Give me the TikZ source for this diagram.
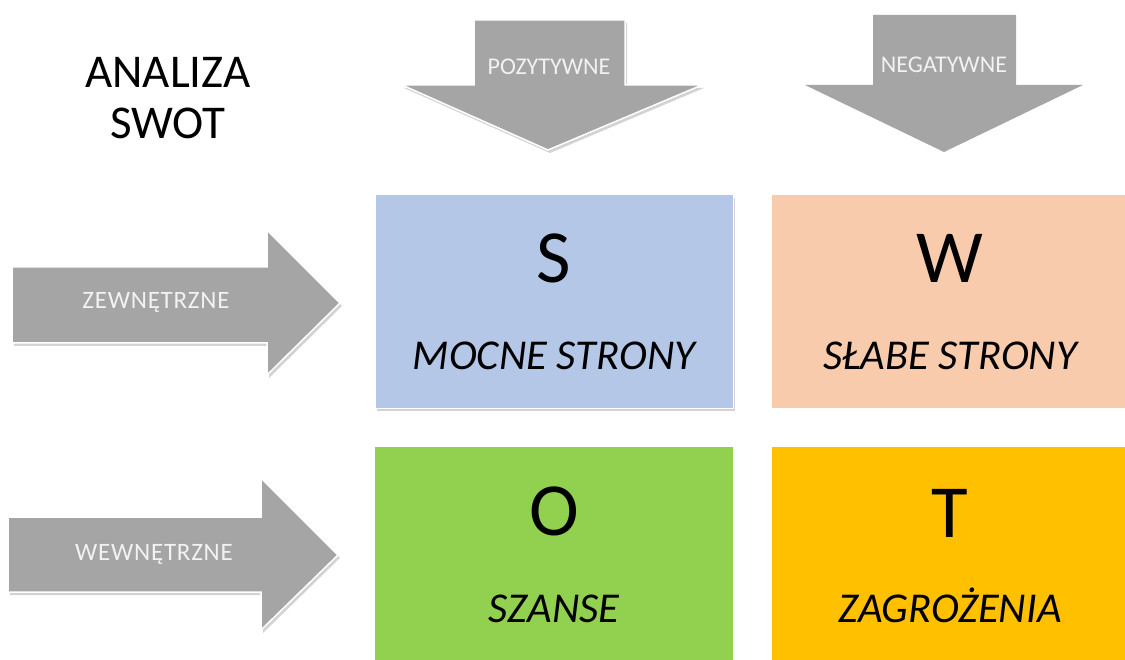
\documentclass[tikz,border=0pt]{standalone}
\usepackage{fontspec}
\setmainfont{Carlito}
\newfontfamily\widefont[LetterSpace=3]{Carlito}
\usetikzlibrary{shadows}
\definecolor{arrowgray}{HTML}{A5A5A5}
\definecolor{labelwhite}{HTML}{F2F2F2}
\definecolor{sblue}{HTML}{B4C7E7}
\definecolor{wpeach}{HTML}{F8CBAD}
\definecolor{ogreen}{HTML}{92D050}
\definecolor{tyellow}{HTML}{FFC000}
\tikzset{
  bigarrow/.style={fill=arrowgray, draw=white, line width=1.5pt, line join=miter},
  shadowed/.style={drop shadow={opacity=0.35, shadow xshift=2pt, shadow yshift=-3pt}},
  arrowlabel/.style={text=labelwhite, font=\fontsize{24}{28}\selectfont, anchor=base, inner sep=0pt},
  sidelabel/.style={text=labelwhite, font=\widefont\fontsize{25}{29}\selectfont, anchor=base, inner sep=0pt},
  quad/.style={draw=white, line width=1pt, inner sep=0pt, anchor=north west},
  bigletter/.style={font=\fontsize{75}{90}\selectfont, anchor=base, inner sep=0pt},
  quadname/.style={font=\fontsize{42.5}{50}\selectfont\itshape, anchor=base, inner sep=0pt},
  titletext/.style={font=\fontsize{47}{52}\selectfont, anchor=base, inner sep=0pt}
}
\begin{document}
\begin{tikzpicture}[x=1pt, y=-1pt]
\useasboundingbox (0,0) rectangle (1125,660);
% title
\node[titletext] (t1) at (168,88) {ANALIZA};
\node[titletext] (t2) at (168,139) {SWOT};
% top arrows
\path[bigarrow, shadowed] (474,20) -- (625,20) -- (625,85) -- (702,85) -- (548,150) -- (402,85) -- (474,85) -- cycle;
\node[arrowlabel] (poz) at (549,75) {POZYTYWNE};
\path[fill=arrowgray] (873,15) -- (1016,15) -- (1016,85) -- (1083,85) -- (944,152) -- (805,85) -- (873,85) -- cycle;
\node[arrowlabel] (neg) at (944,73) {NEGATYWNE};
% left arrows
\path[bigarrow, shadowed] (12,267) -- (267,267) -- (267,230) -- (340,303) -- (267,375) -- (267,343) -- (12,343) -- cycle;
\node[sidelabel] (zew) at (156,309) {ZEWNĘTRZNE};
\path[bigarrow, shadowed] (8,517) -- (261,517) -- (261,478) -- (338,555) -- (261,630) -- (261,592) -- (8,592) -- cycle;
\node[sidelabel] (wew) at (154,560) {WEWNĘTRZNE};
% quadrants
\path[quad, fill=sblue, shadowed] (375,195) rectangle (733,408);
\path[fill=wpeach] (772,195) rectangle (1125,408);
\path[fill=ogreen] (375,447) rectangle (733,660);
\path[fill=tyellow] (772,447) rectangle (1125,660);
\node[bigletter] (S) at (554,283) {S};
\node[quadname] (Sn) at (554,370) {MOCNE STRONY};
\node[bigletter] (W) at (950,283) {W};
\node[quadname] (Wn) at (950,370) {SŁABE STRONY};
\node[bigletter] (O) at (554,535) {O};
\node[quadname] (On) at (554,622) {SZANSE};
\node[bigletter] (T) at (950,537) {T};
\node[quadname] (Tn) at (950,622) {ZAGROŻENIA};
\end{tikzpicture}
\end{document}
